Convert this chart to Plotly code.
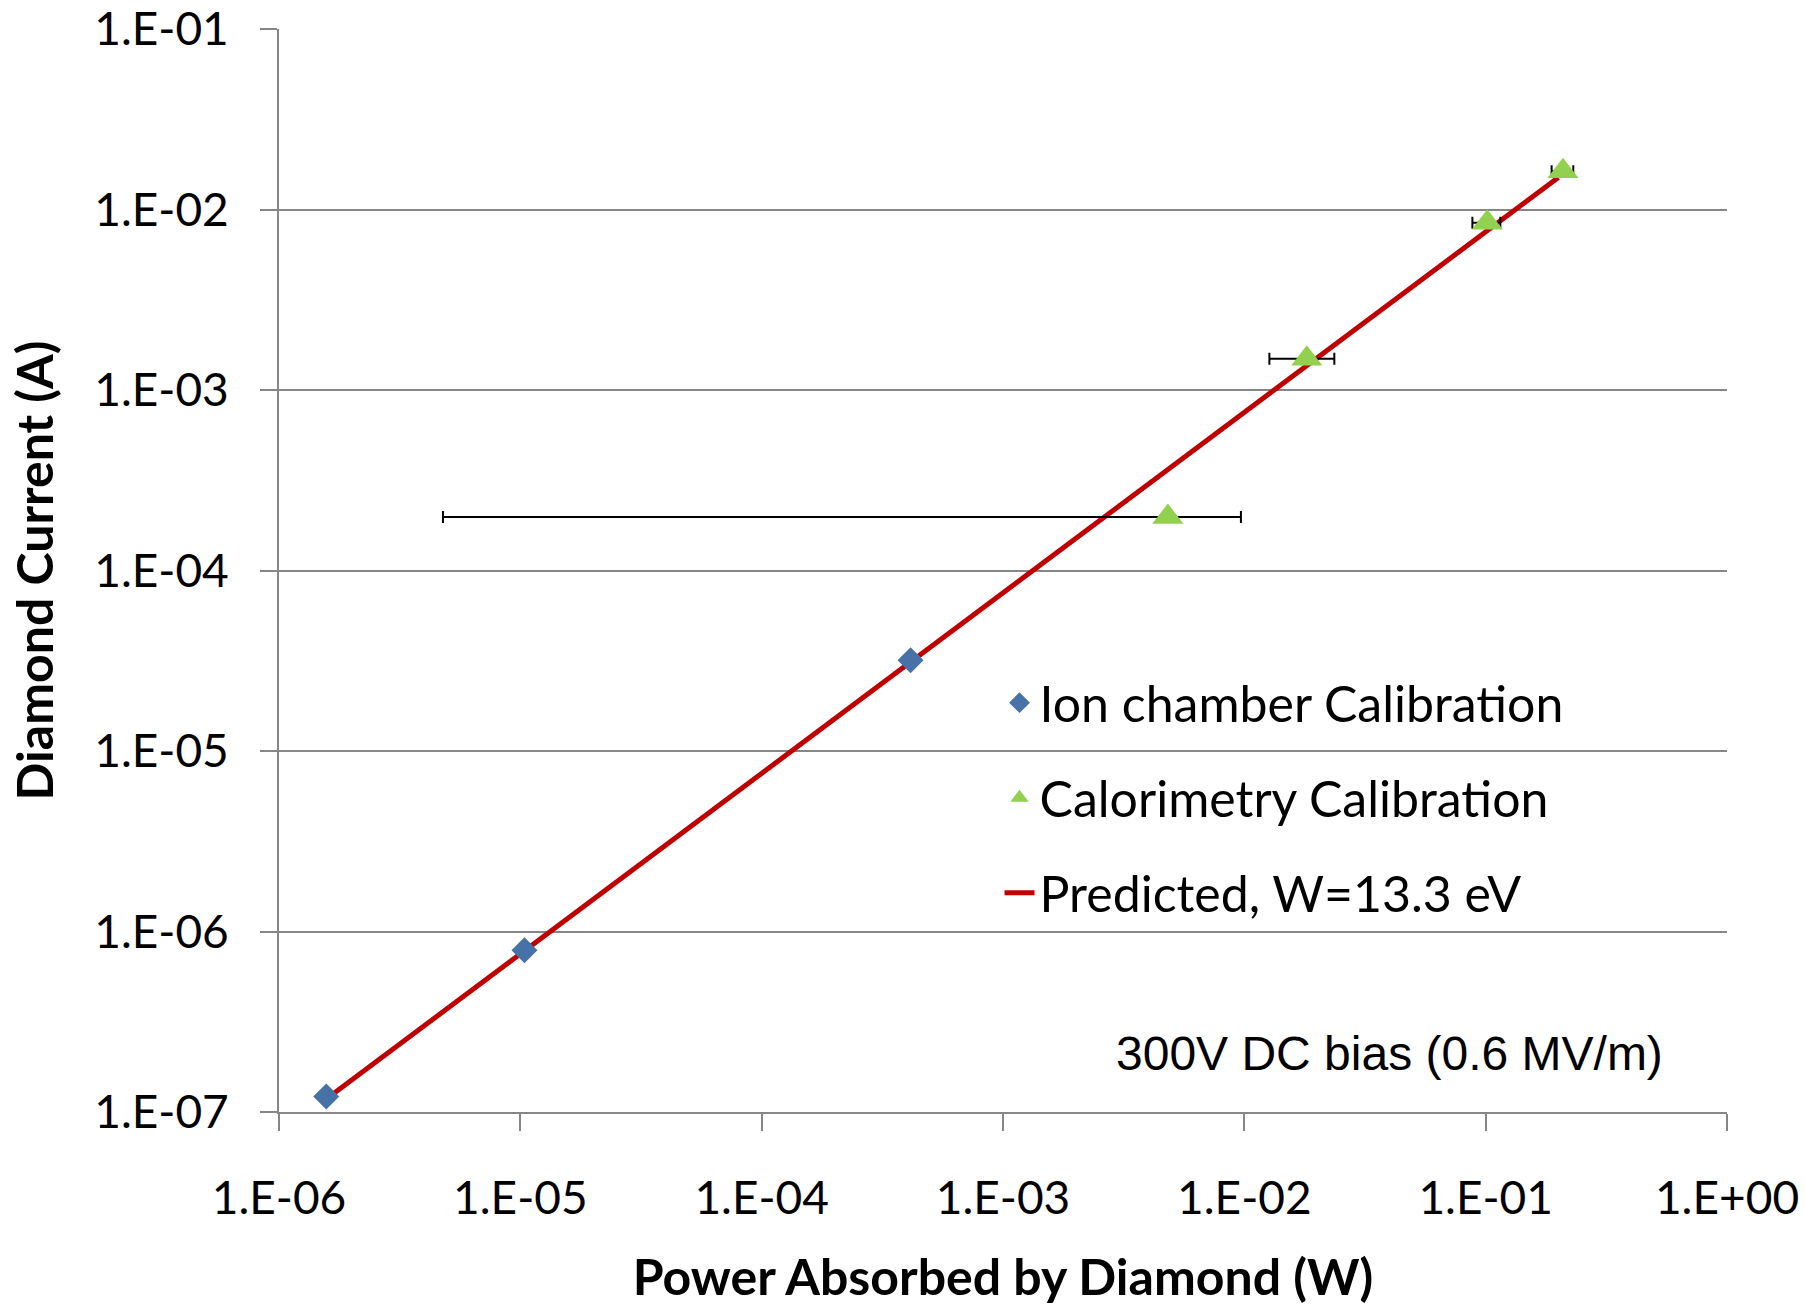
import plotly.graph_objects as go

# ---- data ----
ion_power = [1.57e-6, 1.04e-5, 4.14e-4]
ion_current = [1.22e-7, 7.87e-7, 3.18e-5]

cal_power = [4.82e-3, 1.815e-2, 1.016e-1, 2.09e-1]
cal_current = [1.98e-4, 1.49e-3, 8.45e-3, 1.63e-2]
cal_power_low = [4.78e-6, 1.27e-2, 8.81e-2, 1.876e-1]
cal_power_high = [9.68e-3, 2.36e-2, 1.15e-1, 2.307e-1]

pred_power = [1.57e-6, 2.0e-1]
pred_current = [1.18e-7, 1.504e-2]

x_tickvals = [1e-6, 1e-5, 1e-4, 1e-3, 1e-2, 1e-1, 1e0]
x_ticktext = ["1.E-06", "1.E-05", "1.E-04", "1.E-03", "1.E-02", "1.E-01", "1.E+00"]
y_tickvals = [1e-7, 1e-6, 1e-5, 1e-4, 1e-3, 1e-2, 1e-1]
y_ticktext = ["1.E-07", "1.E-06", "1.E-05", "1.E-04", "1.E-03", "1.E-02", "1.E-01"]

FONT = "Lato"
err_plus = [h - p for h, p in zip(cal_power_high, cal_power)]
err_minus = [p - l for l, p in zip(cal_power_low, cal_power)]

fig = go.Figure()

fig.add_trace(go.Scatter(
    x=pred_power, y=pred_current, mode="lines",
    line=dict(color="#C00000", width=5),
    name="Predicted, W=13.3 eV", legendgroup="c", legendrank=3,
))
fig.add_trace(go.Scatter(
    x=cal_power, y=cal_current, mode="markers",
    marker=dict(symbol="triangle-up", size=27, color="#92D050"),
    error_x=dict(type="data", symmetric=False, array=err_plus, arrayminus=err_minus,
                 color="black", thickness=2, width=6),
    name="Calorimetry Calibration", legendgroup="b", legendrank=2,
))
fig.add_trace(go.Scatter(
    x=ion_power, y=ion_current, mode="markers",
    marker=dict(symbol="diamond", size=20, color="#4672A8"),
    name="Ion chamber Calibration", legendgroup="a", legendrank=1,
))

fig.add_annotation(
    x=0.7666, y=0.0536, xref="paper", yref="paper",
    text="300V DC bias (0.6 MV/m)", showarrow=False,
    font=dict(family="Liberation Sans, Arial", size=48, color="black"),
    xanchor="center", yanchor="middle",
)

fig.update_layout(
    width=1806, height=1306,
    margin=dict(l=279, r=79, t=29, b=194),
    paper_bgcolor="white", plot_bgcolor="white",
    font=dict(family=FONT, size=46, color="black"),
    legend=dict(
        x=0.4976, y=0.414, xanchor="left", yanchor="top",
        font=dict(family=FONT, size=50, color="black"),
        bgcolor="rgba(0,0,0,0)", tracegroupgap=27,
        traceorder="grouped", itemsizing="trace",
    ),
    showlegend=True,
)

fig.update_xaxes(
    type="log", range=[-6, 0], automargin=False,
    tickvals=x_tickvals, ticktext=x_ticktext,
    showgrid=False, zeroline=False,
    showline=True, linecolor="#868686", linewidth=2,
    ticks="outside", ticklen=17, tickwidth=2, tickcolor="#868686",
    ticklabelstandoff=28,
    tickfont=dict(family=FONT, size=46),
    title=dict(text="<b>Power Absorbed by Diamond (W)</b>", font=dict(family=FONT, size=50), standoff=40),
)
fig.update_yaxes(
    type="log", range=[-7, -1], automargin=False,
    tickvals=y_tickvals, ticktext=y_ticktext,
    showgrid=True, gridcolor="#868686", gridwidth=2,
    zeroline=False,
    showline=True, linecolor="#868686", linewidth=2,
    ticks="outside", ticklen=17, tickwidth=2, tickcolor="#868686",
    ticklabelstandoff=22,
    tickfont=dict(family=FONT, size=46),
    title=dict(text="<b>Diamond Current (A)</b>", font=dict(family=FONT, size=50), standoff=25),
)

fig.write_html("out.html")
